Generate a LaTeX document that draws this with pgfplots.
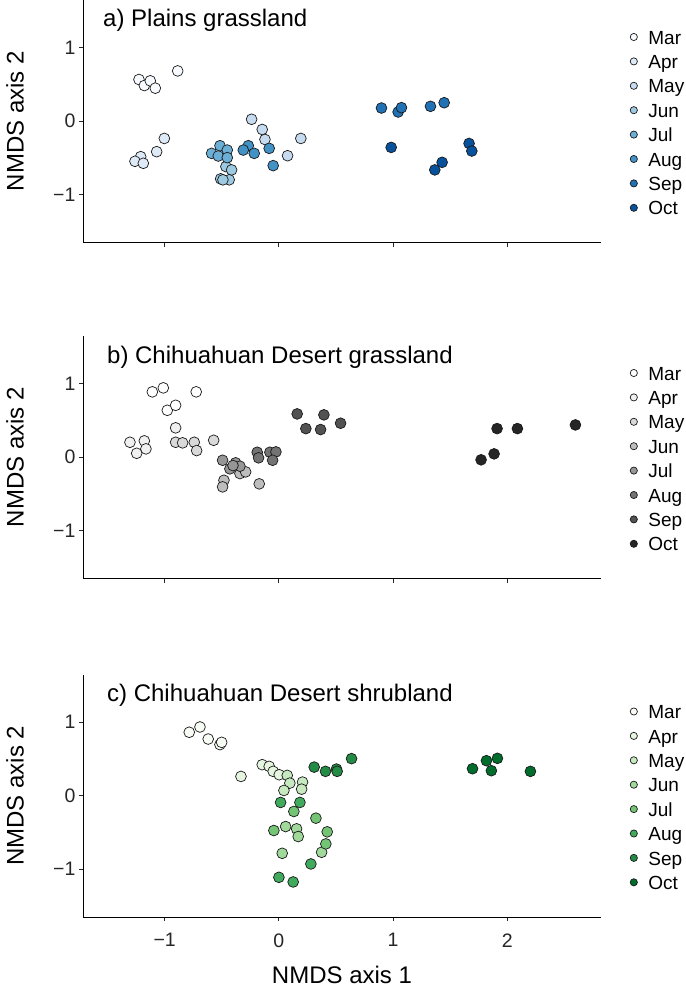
\documentclass[border=0pt]{standalone}
\usepackage{fontspec}
\setmainfont{Liberation Sans}
\usepackage{pgfplots}
\pgfplotsset{compat=1.18}

% Blues, Greys, Greens (brewer, 1..8)
\definecolor{bMar}{HTML}{F7FBFF}\definecolor{bApr}{HTML}{DEEBF7}
\definecolor{bMay}{HTML}{C6DBEF}\definecolor{bJun}{HTML}{9ECAE1}
\definecolor{bJul}{HTML}{6BAED6}\definecolor{bAug}{HTML}{4292C6}
\definecolor{bSep}{HTML}{2171B5}\definecolor{bOct}{HTML}{08519C}
\definecolor{kMar}{HTML}{FFFFFF}\definecolor{kApr}{HTML}{F0F0F0}
\definecolor{kMay}{HTML}{D9D9D9}\definecolor{kJun}{HTML}{BDBDBD}
\definecolor{kJul}{HTML}{969696}\definecolor{kAug}{HTML}{737373}
\definecolor{kSep}{HTML}{525252}\definecolor{kOct}{HTML}{252525}
\definecolor{gMar}{HTML}{F7FCF5}\definecolor{gApr}{HTML}{E5F5E0}
\definecolor{gMay}{HTML}{C7E9C0}\definecolor{gJun}{HTML}{A1D99B}
\definecolor{gJul}{HTML}{74C476}\definecolor{gAug}{HTML}{41AB5D}
\definecolor{gSep}{HTML}{238B45}\definecolor{gOct}{HTML}{006D2C}

\pgfplotsset{
  mk/.style={only marks, mark=*, mark size=5.4pt,
    mark options={draw=black!90, line width=0.7pt, fill=#1}},
  nmds/.style={
    width=518pt, height=242.5pt, scale only axis,
    xmin=-1.715, xmax=2.82, ymin=-1.65, ymax=1.65,
    axis lines*=left, axis line style={-, line width=1pt, black},
    tick align=outside, major tick length=4pt,
    tick style={line width=0.8pt, black!85},
    xtick={-1,0,1,2}, ytick={-1,0,1},
    yticklabels={−1,0,1},
    tick label style={font=\fontsize{19.5}{23}\selectfont, text=black!85},
    xticklabel style={yshift=-9pt},
    label style={font=\fontsize{24}{28}\selectfont},
    ylabel={NMDS axis 2},
    ylabel style={at={(axis description cs:-0.131,0.5)}, anchor=center, rotate=0},
    legend cell align=left,
    legend image code/.code={\draw[##1, mark size=3.6pt] plot coordinates {(0pt,2.6pt)};},
    legend style={at={(axis description cs:1.056,0.8726)}, anchor=north west,
      draw=none, fill=none, inner sep=0pt,
      font=\fontsize{19}{22}\selectfont, row sep=7.4pt,
      nodes={inner sep=0pt, text height=13pt, text depth=4pt},
      /tikz/every odd column/.append style={column sep=11pt}},
  },
}

\begin{document}
\begin{tikzpicture}[x=1pt,y=1pt]
\useasboundingbox (0,0) rectangle (685,-992);

% a) Plains grassland
\begin{axis}[nmds, at={(83pt,-242.5pt)}, anchor=south west, xticklabels={}]
\addplot[mk=bMar] coordinates {(-1.225,0.568)(-1.178,0.486)(-1.126,0.55)(-1.082,0.45)(-0.886,0.685)};
\addplot[mk=bApr] coordinates {(-1.21,-0.482)(-1.26,-0.545)(-1.187,-0.572)(-1.07,-0.414)(-1.003,-0.234)};
\addplot[mk=bMay] coordinates {(-0.239,0.027)(-0.146,-0.112)(-0.122,-0.248)(0.192,-0.234)(0.076,-0.469)};
\addplot[mk=bJun] coordinates {(-0.51,-0.784)(-0.464,-0.617)(-0.414,-0.662)(-0.435,-0.797)(-0.49,-0.797)};
\addplot[mk=bJul] coordinates {(-0.516,-0.333)(-0.452,-0.392)(-0.589,-0.437)(-0.531,-0.473)(-0.452,-0.495)};
\addplot[mk=bAug] coordinates {(-0.268,-0.333)(-0.312,-0.392)(-0.216,-0.437)(-0.085,-0.369)(-0.05,-0.604)};
\addplot[mk=bSep] coordinates {(0.898,0.18)(1.044,0.126)(1.073,0.185)(1.327,0.203)(1.447,0.252)};
\addplot[mk=bOct] coordinates {(0.983,-0.356)(1.365,-0.662)(1.429,-0.559)(1.665,-0.302)(1.689,-0.405)};
\legend{Mar,Apr,May,Jun,Jul,Aug,Sep,Oct}
\node[anchor=base west, inner sep=0pt, font=\fontsize{24}{28}\selectfont] at (axis description cs:0.0386,0.8897) {a) Plains grassland};
\end{axis}

% b) Chihuahuan Desert grassland
\begin{axis}[nmds, at={(83pt,-578.5pt)}, anchor=south west, xticklabels={}]
\addplot[mk=kMar] coordinates {(-1.108,0.89)(-1.012,0.944)(-0.724,0.89)(-0.977,0.639)(-0.904,0.707)};
\addplot[mk=kApr] coordinates {(-1.304,0.204)(-1.178,0.223)(-1.245,0.054)(-1.164,0.114)(-0.904,0.4)};
\addplot[mk=kMay] coordinates {(-0.904,0.204)(-0.843,0.196)(-0.741,0.204)(-0.72,0.091)(-0.571,0.231)};
\addplot[mk=kJun] coordinates {(-0.341,-0.222)(-0.291,-0.199)(-0.481,-0.313)(-0.493,-0.403)(-0.172,-0.362)};
\addplot[mk=kJul] coordinates {(-0.493,-0.041)(-0.429,-0.158)(-0.379,-0.076)(-0.341,-0.122)(-0.402,-0.113)};
\addplot[mk=kAug] coordinates {(-0.19,0.068)(-0.178,-0.008)(-0.079,0.068)(-0.026,0.073)(-0.055,-0.041)};
\addplot[mk=kSep] coordinates {(0.16,0.59)(0.394,0.577)(0.236,0.39)(0.365,0.377)(0.54,0.463)};
\addplot[mk=kOct] coordinates {(1.77,-0.035)(1.884,0.046)(1.91,0.39)(2.088,0.39)(2.596,0.44)};
\legend{Mar,Apr,May,Jun,Jul,Aug,Sep,Oct}
\node[anchor=base west, inner sep=0pt, font=\fontsize{24}{28}\selectfont] at (axis description cs:0.0463,0.8874) {b) Chihuahuan Desert grassland};
\end{axis}

% c) Chihuahuan Desert shrubland
\begin{axis}[nmds, at={(83pt,-917pt)}, anchor=south west,
  xticklabels={−1,0,1,2}, xlabel={NMDS axis 1},
  xlabel style={at={(axis description cs:0.5,-0.238)}, anchor=center}]
\addplot[mk=gMar] coordinates {(-0.785,0.864)(-0.691,0.936)(-0.619,0.772)(-0.516,0.696)(-0.501,0.727)};
\addplot[mk=gApr] coordinates {(-0.332,0.263)(-0.146,0.423)(-0.085,0.4)(-0.05,0.332)(0.003,0.286)};
\addplot[mk=gMay] coordinates {(0.073,0.277)(0.096,0.172)(0.044,0.072)(0.207,0.186)(0.199,0.09)};
\addplot[mk=gJun] coordinates {(0.059,-0.419)(0.155,-0.45)(0.169,-0.555)(0.374,-0.769)(0.029,-0.783)};
\addplot[mk=gJul] coordinates {(0.131,-0.214)(0.324,-0.305)(-0.044,-0.473)(0.423,-0.491)(0.411,-0.655)};
\addplot[mk=gAug] coordinates {(0.015,-0.091)(0.184,-0.091)(0.28,-0.928)(0.0,-1.11)(0.125,-1.173)};
\addplot[mk=gSep] coordinates {(0.309,0.39)(0.408,0.332)(0.504,0.363)(0.51,0.332)(0.636,0.505)};
\addplot[mk=gOct] coordinates {(1.695,0.368)(1.817,0.477)(1.913,0.509)(1.86,0.341)(2.202,0.332)};
\legend{Mar,Apr,May,Jun,Jul,Aug,Sep,Oct}
\node[anchor=base west, inner sep=0pt, font=\fontsize{24}{28}\selectfont] at (axis description cs:0.0463,0.8874) {c) Chihuahuan Desert shrubland};
\end{axis}
\end{tikzpicture}
\end{document}
